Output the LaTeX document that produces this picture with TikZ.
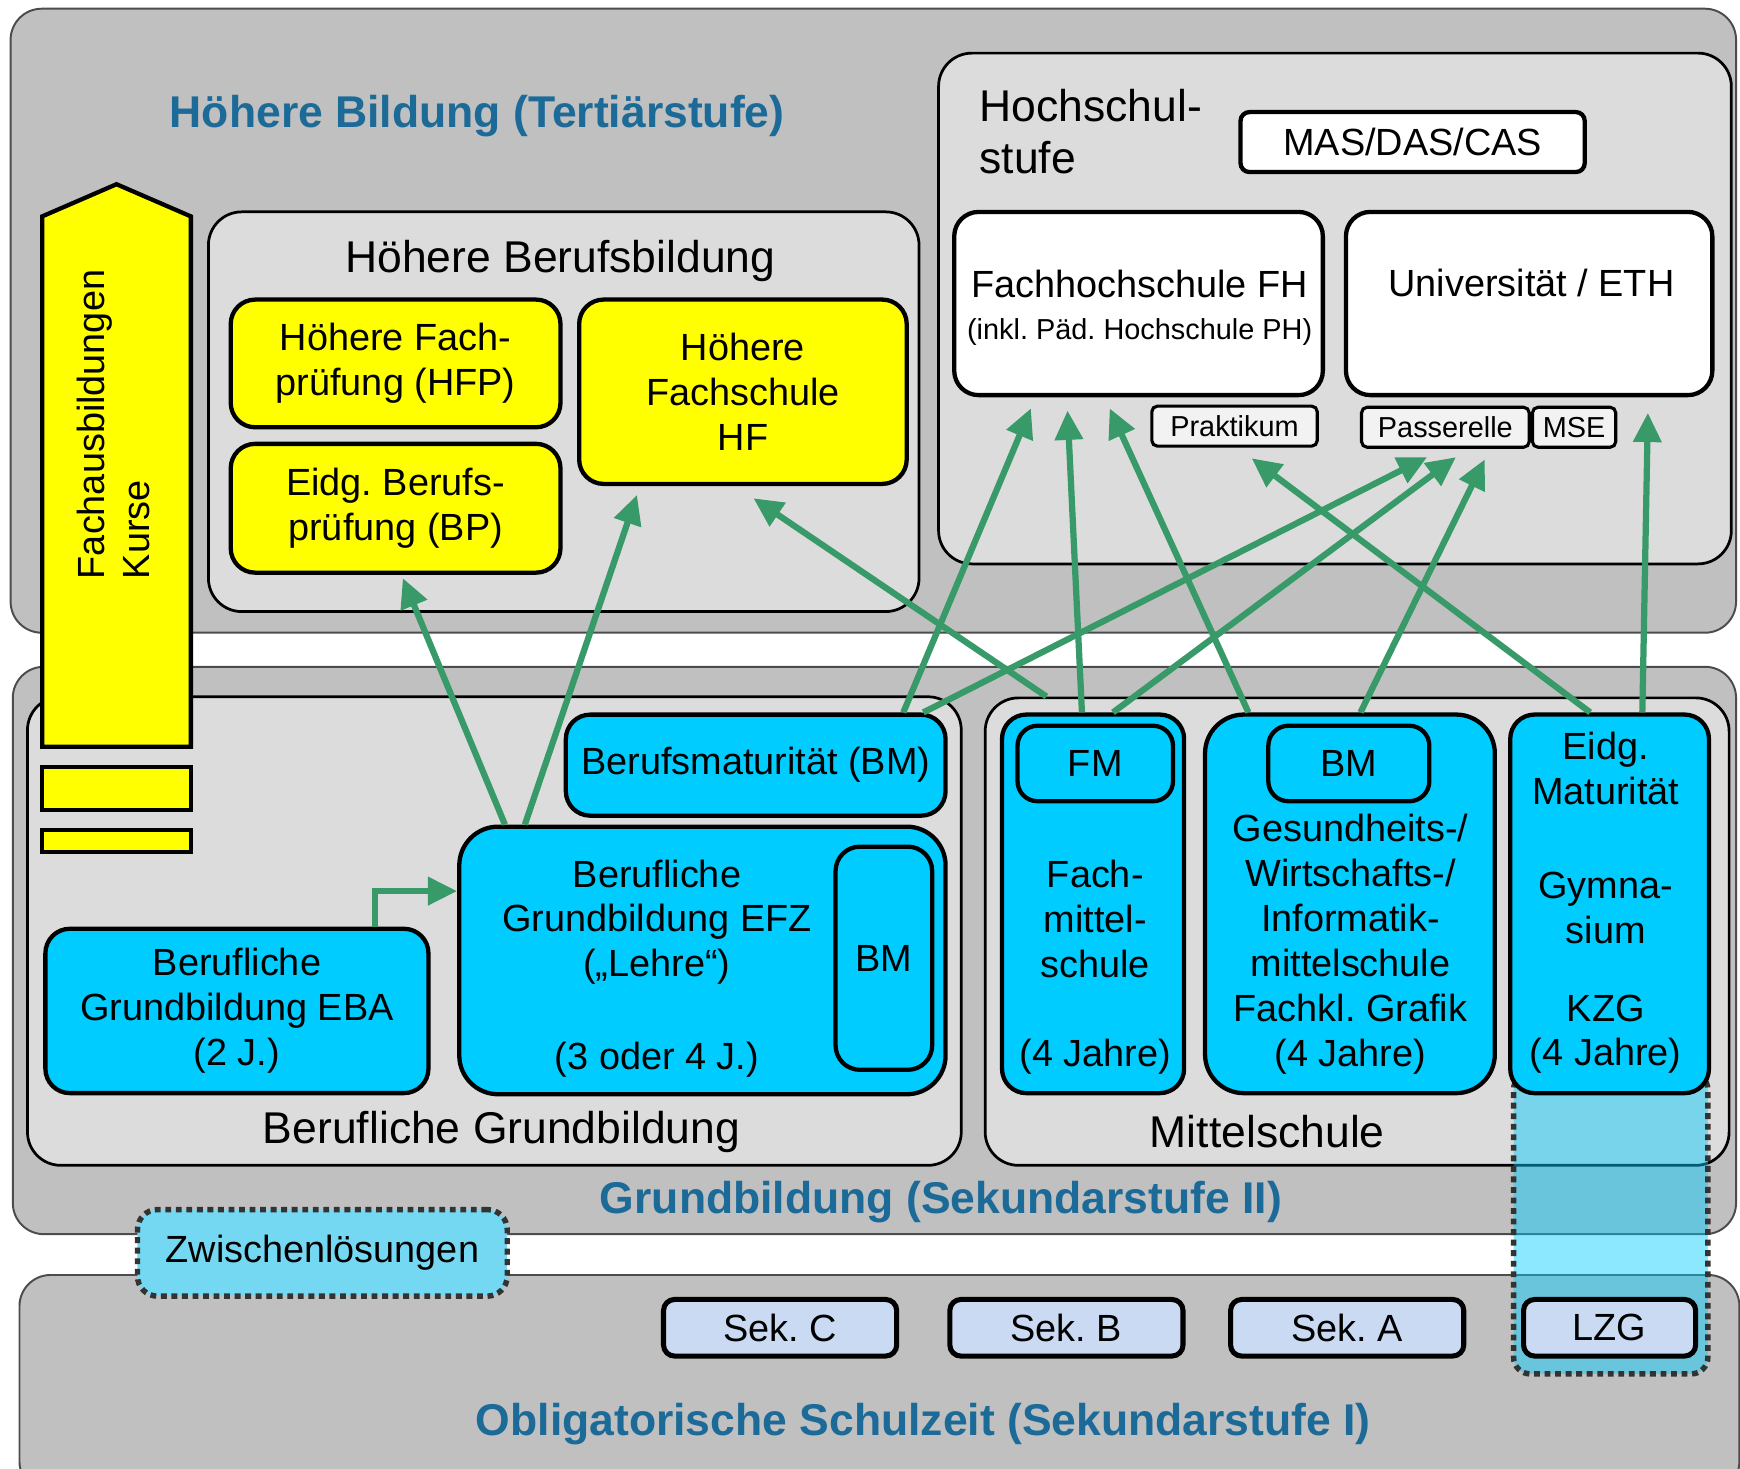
\documentclass[tikz,border=0pt]{standalone}
\usepackage{fontspec}
\setmainfont{Liberation Sans}
\usetikzlibrary{arrows.meta}
\definecolor{panelgray}{HTML}{C0C0C0}
\definecolor{areagray}{HTML}{DCDCDC}
\definecolor{boxcyan}{HTML}{00CCFF}
\definecolor{boxyellow}{HTML}{FFFF00}
\definecolor{sekblue}{HTML}{C9DAF2}
\definecolor{titleblue}{HTML}{1B6A98}
\definecolor{flowgreen}{HTML}{389A68}
\definecolor{zwcyan}{HTML}{74D8F2}
\newcommand\boxfont{\fontsize{9.7}{11.5}\selectfont}
\newcommand\bigfont{\fontsize{11.4}{13.4}\selectfont}
\newcommand\smallfont{\fontsize{7.4}{9}\selectfont}
\frenchspacing
\tikzset{
  panelbox/.style={draw=black!70, line width=0.5pt, fill=panelgray, rounded corners=0.28cm, inner sep=0pt},
  areabox/.style={draw=black, line width=0.7pt, fill=areagray, rounded corners=0.3cm, inner sep=0pt},
  box/.style={draw=black, line width=1.1pt, rounded corners=0.22cm, inner sep=0pt, align=center, font=\boxfont},
  ybox/.style={box, fill=boxyellow},
  cbox/.style={box, fill=boxcyan},
  wbox/.style={box, fill=white},
  tagbox/.style={draw=black, line width=0.8pt, fill=black!5, rounded corners=0.05cm, inner sep=0pt, font=\smallfont},
  sekbox/.style={box, line width=1.3pt, fill=sekblue, rounded corners=0.1cm},
  stagetitle/.style={font=\bigfont\bfseries, text=titleblue, inner sep=0pt},
  heading/.style={font=\bigfont, inner sep=0pt},
  txt/.style={font=\boxfont, align=center, inner sep=0pt},
  dotline/.style={draw=black!80, line width=1.4pt, dash pattern=on 1.5pt off 1.2pt},
  flow/.style={draw=flowgreen, line width=1.6pt, -{Triangle[length=7.5pt,width=7pt]}}
}
\begin{document}
\begin{tikzpicture}[x=0.01cm,y=-0.01cm]
\clip (0,0) rectangle (1568,1323);
\fill[white] (0,0) rectangle (1568,1323);

\node[panelbox, minimum width=15.54cm, minimum height=5.62cm] (tert) at (787,289) {};
\node[panelbox, minimum width=15.52cm, minimum height=5.11cm] (sekii) at (788,856.5) {};
\node[panelbox, minimum width=15.49cm, minimum height=1.96cm] (seki) at (792.5,1247) {};

\node[stagetitle] (terttitle) at (430,105) {Höhere Bildung (Tertiärstufe)};
\node[stagetitle] (sekiititle) at (848,1083) {Grundbildung (Sekundarstufe II)};
\node[stagetitle] (sekititle) at (832,1283) {Obligatorische Schulzeit (Sekundarstufe I)};

\node[areabox, minimum width=6.40cm, minimum height=3.60cm] (hbb) at (508,371) {};
\node[areabox, minimum width=7.14cm, minimum height=4.60cm] (hs) at (1203,278) {};
\node[areabox, minimum width=8.41cm, minimum height=4.22cm] (bg) at (445.5,839) {};
\node[areabox, minimum width=6.70cm, minimum height=4.21cm] (ms) at (1223,839.5) {};

\node[heading] (hbbtitle) at (505,235) {Höhere Berufsbildung};
\node[heading, anchor=west, align=left] (hstitle) at (882,118.5) {Hochschul-\\stufe};
\node[heading] (bgtitle) at (452,1020) {Berufliche Grundbildung};
\node[heading] (mstitle) at (1142,1020) {Mittelschule};

\node[ybox, minimum width=2.97cm, minimum height=1.15cm] (hfp) at (356.5,327.5) {Höhere Fach-\\prüfung (HFP)};
\node[ybox, minimum width=2.97cm, minimum height=1.16cm] (bp) at (356.5,458) {Eidg. Berufs-\\prüfung (BP)};
\node[ybox, minimum width=2.95cm, minimum height=1.66cm] (hf) at (669.5,353) {Höhere\\Fachschule\\HF};

\node[wbox, minimum width=3.32cm, minimum height=1.65cm] (fh) at (1026,273.5) {};
\node[txt] (fhname) at (1027,256) {Fachhochschule FH};
\node[txt, font=\smallfont] (fhnote) at (1027,299) {(inkl. Päd. Hochschule PH)};
\node[wbox, minimum width=3.30cm, minimum height=1.65cm] (uni) at (1378,273.5) {};
\node[txt] (uniname) at (1380,255) {Universität / ETH};
\node[wbox, rounded corners=0.08cm, minimum width=3.10cm, minimum height=0.54cm] (mas) at (1273,128) {MAS/DAS/CAS};

\node[tagbox, minimum width=1.49cm, minimum height=0.36cm] (prak) at (1112.5,384) {Praktikum};
\node[tagbox, minimum width=1.51cm, minimum height=0.36cm] (pass) at (1302.5,385) {Passerelle};
\node[tagbox, minimum width=0.75cm, minimum height=0.36cm] (mse) at (1418.5,385) {MSE};

\node[dotline, fill=boxcyan, fill opacity=0.45, rounded corners=0.15cm, minimum width=1.75cm, minimum height=2.71cm, inner sep=0pt] (lzgzone) at (1451.5,1102.5) {};

\node[cbox, minimum width=3.42cm, minimum height=0.91cm] (bmat) at (681,689.5) {Berufsmaturität (BM)};
\node[cbox, rounded corners=0.35cm, minimum width=4.38cm, minimum height=2.41cm] (efz) at (633,865.5) {};
\node[txt] (efzname) at (592,831) {Berufliche\\Grundbildung EFZ\\(„Lehre“)};
\node[txt] (efzyears) at (592,955) {(3 oder 4 J.)};
\node[cbox, minimum width=0.87cm, minimum height=2.01cm] (efzbm) at (796.5,863.5) {BM};
\node[cbox, minimum width=3.45cm, minimum height=1.48cm] (eba) at (213.5,911) {Berufliche\\Grundbildung EBA\\(2 J.)};

\node[cbox, minimum width=1.64cm, minimum height=3.41cm] (fmcol) at (985,814.5) {};
\node[cbox, rounded corners=0.18cm, minimum width=1.40cm, minimum height=0.68cm] (fm) at (987,688) {FM};
\node[txt] (fmname) at (987,828) {Fach-\\mittel-\\schule};
\node[txt] (fmyears) at (987,952) {(4 Jahre)};
\node[cbox, rounded corners=0.35cm, minimum width=2.61cm, minimum height=3.41cm] (wmcol) at (1216.5,814.5) {};
\node[cbox, rounded corners=0.18cm, minimum width=1.45cm, minimum height=0.68cm] (wmbm) at (1215.5,688) {BM};
\node[txt] (wmname) at (1217,851) {Gesundheits-/\\Wirtschafts-/\\Informatik-\\mittelschule\\Fachkl. Grafik\\(4 Jahre)};
\node[cbox, minimum width=1.79cm, minimum height=3.41cm] (gymcol) at (1450.5,814.5) {};
\node[txt] (gymmat) at (1447,692.5) {Eidg.\\Maturität};
\node[txt] (gymname) at (1447,818) {Gymna-\\sium};
\node[txt] (gymkzg) at (1447,932) {KZG\\(4 Jahre)};

\node[sekbox, minimum width=2.10cm, minimum height=0.51cm] (sekc) at (703,1196.5) {Sek. C};
\node[sekbox, minimum width=2.10cm, minimum height=0.51cm] (sekb) at (961,1196.5) {Sek. B};
\node[sekbox, minimum width=2.10cm, minimum height=0.51cm] (seka) at (1214,1196.5) {Sek. A};
\node[sekbox, minimum width=1.55cm, minimum height=0.51cm] (lzg) at (1450.5,1196.5) {LZG};
\node[dotline, fill=zwcyan, rounded corners=0.18cm, minimum width=3.33cm, minimum height=0.78cm, inner sep=0pt, font=\boxfont] (zwl) at (290.5,1129) {Zwischenlösungen};

\draw[line width=1.1pt, fill=boxyellow] (38,195) -- (105,166) -- (172,195) -- (172,673) -- (38,673) -- cycle;
\draw[line width=1.1pt, fill=boxyellow] (38,691) rectangle (172,730);
\draw[line width=1.1pt, fill=boxyellow] (38,748) rectangle (172,768);
\node[txt, rotate=90, align=left] (fachkurse) at (102,382.5) {Fachausbildungen\\Kurse};

\coordinate (bpin) at (363,521);
\coordinate (hfin1) at (574,446);
\coordinate (hfin2) at (679,449);
\coordinate (fhin1) at (929,368);
\coordinate (fhin2) at (962,370);
\coordinate (fhin3) at (1000,368);
\coordinate (prakin) at (1128,413);
\coordinate (passin1) at (1286,412);
\coordinate (passin2) at (1312,412);
\coordinate (passin3) at (1338,414);
\coordinate (uniin) at (1485,372);

\draw[flow] (efz.north -| 455,0) -- (bpin);
\draw[flow] (efz.north -| 473,0) -- (hfin1);
\draw[flow] (ms.north -| 943,0) -- (hfin2);
\draw[flow] (bmat.north -| 814,0) -- (fhin1);
\draw[flow] (bmat.north -| 832,0) -- (passin1);
\draw[flow] (fmcol.north -| 975,0) -- (fhin2);
\draw[flow] (fmcol.north -| 1003,0) -- (passin2);
\draw[flow] (wmcol.north -| 1125,0) -- (fhin3);
\draw[flow] (wmcol.north -| 1226,0) -- (passin3);
\draw[flow] (gymcol.north -| 1433,0) -- (prakin);
\draw[flow] (gymcol.north -| 1480,0) -- (uniin);
\draw[flow] (eba.north -| 338,0) |- (efz.west |- 0,803);
\end{tikzpicture}
\end{document}
